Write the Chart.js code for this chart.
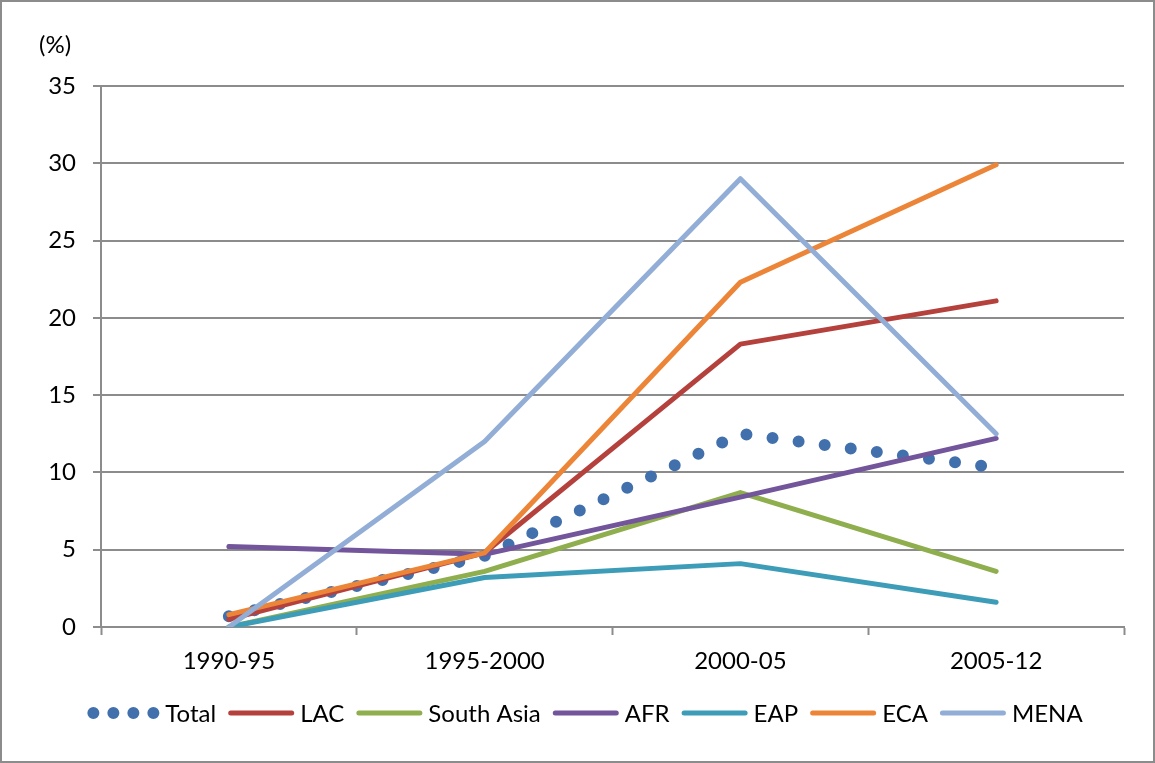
<!DOCTYPE html>
<html>
<head>
<meta charset="utf-8">
<script src="https://cdn.jsdelivr.net/npm/chart.js@4.4.1/dist/chart.umd.min.js"></script>
<style>
  html, body { margin: 0; padding: 0; background: #fff; }
  canvas { display: block; }
</style>
</head>
<body>
<canvas id="chart" width="1155" height="763"></canvas>
<script>
// Periods on the category axis
const periods = ['1990-95', '1995-2000', '2000-05', '2005-12'];

// Share by region, percent
const total     = [0.7, 4.6, 12.5, 10.3];
const lac       = [0.5, 4.8, 18.3, 21.1];
const southAsia = [0.0, 3.6, 8.7, 3.6];
const afr       = [5.2, 4.7, 8.4, 12.2];
const eap       = [0.0, 3.2, 4.1, 1.6];
const eca       = [0.8, 4.8, 22.3, 29.9];
const mena      = [0.0, 12.0, 29.0, 12.5];

// Value axis ticks
const yTicks = [0, 5, 10, 15, 20, 25, 30, 35];
const yUnit = '(%)';

const FONT = 'Lato, "Open Sans", "Liberation Sans", sans-serif';
const FONT_SIZE = 24;
const AXIS_GRAY = '#8c8c8c';

const series = [
  { label: 'Total',      data: total,     color: '#4170AC', dotted: true },
  { label: 'LAC',        data: lac,       color: '#B5413D' },
  { label: 'South Asia', data: southAsia, color: '#8FAE4D' },
  { label: 'AFR',        data: afr,       color: '#72559A' },
  { label: 'EAP',        data: eap,       color: '#3D9CB8' },
  { label: 'ECA',        data: eca,       color: '#EC8537' },
  { label: 'MENA',       data: mena,      color: '#92AED6' }
];

const datasets = series.map((s, i) => ({
  label: s.label,
  data: s.data,
  borderColor: s.color,
  backgroundColor: s.color,
  borderWidth: s.dotted ? 12 : 5,
  borderDash: s.dotted ? [0, 26.3] : [],
  borderCapStyle: 'round',
  borderJoinStyle: 'round',
  pointRadius: 0,
  pointHoverRadius: 0,
  tension: 0,
  fill: false,
  // later series are painted over earlier ones
  order: series.length - i
}));

// Outer frame, unit label and bottom legend
const decorations = {
  id: 'decorations',
  beforeDraw(chart) {
    const ctx = chart.ctx;
    ctx.save();
    ctx.fillStyle = '#fff';
    ctx.fillRect(0, 0, chart.width, chart.height);
    ctx.strokeStyle = AXIS_GRAY;
    ctx.lineWidth = 2;
    ctx.strokeRect(1, 1, chart.width - 2, chart.height - 2);
    ctx.restore();
  },
  afterDraw(chart) {
    const ctx = chart.ctx;
    ctx.save();
    ctx.font = FONT_SIZE + 'px ' + FONT;
    ctx.fillStyle = '#000';
    ctx.textBaseline = 'middle';
    ctx.textAlign = 'left';
    ctx.fillText(yUnit, 39, 45);

    // legend
    const sampleW = 66, dotSampleW = 72, gapText = 6, gapItem = 12;
    const items = series.map(s => {
      const sw = s.dotted ? dotSampleW : sampleW;
      const tw = ctx.measureText(s.label).width;
      return { s, sw, tw, w: sw + gapText + tw };
    });
    const totalW = items.reduce((a, it) => a + it.w, 0) + gapItem * (items.length - 1);
    let x = 585 - totalW / 2;
    const y = 713;
    items.forEach(it => {
      ctx.strokeStyle = it.s.color;
      ctx.lineCap = 'round';
      ctx.beginPath();
      if (it.s.dotted) {
        ctx.lineWidth = 12;
        ctx.setLineDash([0, 20]);
        ctx.moveTo(x + 6, y);
        ctx.lineTo(x + 66.5, y);
      } else {
        ctx.lineWidth = 5;
        ctx.setLineDash([]);
        ctx.moveTo(x + 2.5, y);
        ctx.lineTo(x + it.sw - 2.5, y);
      }
      ctx.stroke();
      ctx.setLineDash([]);
      ctx.fillStyle = '#000';
      ctx.fillText(it.s.label, x + it.sw + gapText, y + 1);
      x += it.w + gapItem;
    });
    ctx.restore();
  }
};

new Chart(document.getElementById('chart'), {
  type: 'line',
  data: { labels: periods, datasets },
  plugins: [decorations],
  options: {
    responsive: false,
    animation: false,
    events: [],
    layout: { padding: { top: 86, right: 31, left: 0, bottom: 0 } },
    plugins: {
      legend: { display: false },
      tooltip: { enabled: false }
    },
    scales: {
      x: {
        type: 'category',
        offset: true,
        afterFit(s) { s.height = 136; },
        border: { display: true, color: AXIS_GRAY, width: 2 },
        grid: {
          offset: true,
          drawOnChartArea: false,
          drawTicks: true,
          tickLength: 8,
          tickColor: AXIS_GRAY,
          tickWidth: 2
        },
        ticks: {
          color: '#000',
          font: { family: FONT, size: FONT_SIZE },
          padding: 12,
          maxRotation: 0,
          autoSkip: false
        }
      },
      y: {
        min: 0,
        max: 35,
        afterFit(s) { s.width = 101; },
        afterBuildTicks(s) { s.ticks = yTicks.map(v => ({ value: v })); },
        border: { display: true, color: AXIS_GRAY, width: 2 },
        grid: {
          color: AXIS_GRAY,
          lineWidth: 2,
          drawTicks: true,
          tickLength: 8
        },
        ticks: {
          color: '#000',
          font: { family: FONT, size: FONT_SIZE },
          padding: 17
        }
      }
    }
  }
});
</script>
</body>
</html>
